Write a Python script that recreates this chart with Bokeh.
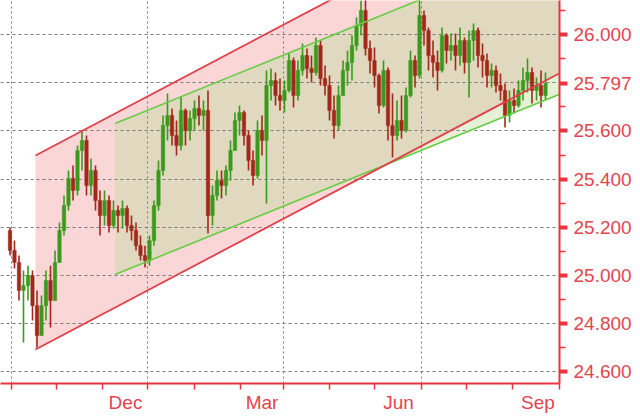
import numpy as np
import pandas as pd
from bokeh.plotting import figure
from bokeh.models import (Range1d, FixedTicker, SingleIntervalTicker, NumeralTickFormatter)
from bokeh.embed import file_html
from bokeh.resources import INLINE

# ---------------- data ----------------
bar_start = "2012-08-31"   # one bar every 3 calendar days
open_ = [25.187, 25.104, 25.054, 24.938, 24.958, 25.000, 24.875, 24.751, 24.875, 24.979,
         24.896, 25.054, 25.187, 25.290, 25.403, 25.353, 25.519, 25.560, 25.373, 25.436,
         25.311, 25.249, 25.311, 25.207, 25.270, 25.249, 25.278, 25.207, 25.187, 25.124,
         25.083, 25.062, 25.145, 25.290, 25.436, 25.622, 25.664, 25.581, 25.539, 25.685,
         25.602, 25.651, 25.693, 25.664, 25.685, 25.249, 25.332, 25.394, 25.373, 25.436,
         25.519, 25.643, 25.676, 25.581, 25.477, 25.415, 25.602, 25.560, 25.788, 25.809,
         25.747, 25.726, 25.768, 25.892, 25.747, 25.851, 25.913, 25.859, 25.842, 25.954,
         25.817, 25.788, 25.685, 25.622, 25.747, 25.851, 25.884, 25.954, 26.037, 26.100,
         25.942, 25.892, 25.830, 25.705, 25.851, 25.622, 25.581, 25.643, 25.602, 25.747,
         25.892, 25.830, 26.079, 26.017, 25.913, 25.884, 25.851, 25.996, 25.934, 25.954,
         25.913, 25.975, 25.884, 25.975, 26.017, 25.913, 25.892, 25.830, 25.851, 25.788,
         25.768, 25.664, 25.726, 25.705, 25.768, 25.809, 25.842, 25.768, 25.788, 25.747]
high = [25.199, 25.145, 25.083, 25.021, 25.041, 25.021, 24.938, 24.917, 25.021, 25.041,
        25.104, 25.220, 25.332, 25.436, 25.456, 25.539, 25.597, 25.581, 25.485, 25.456,
        25.353, 25.353, 25.332, 25.311, 25.290, 25.311, 25.290, 25.249, 25.220, 25.166,
        25.124, 25.166, 25.311, 25.477, 25.664, 25.755, 25.693, 25.643, 25.743, 25.693,
        25.685, 25.726, 25.747, 25.726, 25.768, 25.373, 25.436, 25.436, 25.456, 25.560,
        25.676, 25.705, 25.685, 25.602, 25.519, 25.643, 25.664, 25.851, 25.859, 25.842,
        25.817, 25.809, 25.921, 25.905, 25.892, 25.963, 25.942, 25.913, 25.988, 25.975,
        25.871, 25.830, 25.747, 25.788, 25.892, 25.934, 25.996, 26.071, 26.141, 26.154,
        25.975, 25.946, 25.838, 25.892, 25.863, 25.755, 25.726, 25.747, 25.780, 25.934,
        25.913, 26.141, 26.100, 26.029, 25.975, 25.934, 26.029, 26.004, 26.004, 26.004,
        26.029, 25.988, 26.017, 26.046, 26.029, 25.963, 25.921, 25.880, 25.871, 25.838,
        25.797, 25.768, 25.776, 25.809, 25.863, 25.900, 25.863, 25.822, 25.851, 25.842]
low = [25.083, 25.029, 24.896, 24.722, 24.896, 24.813, 24.701, 24.751, 24.813, 24.784,
       24.896, 25.054, 25.166, 25.270, 25.311, 25.332, 25.436, 25.332, 25.332, 25.270,
       25.166, 25.207, 25.178, 25.195, 25.178, 25.195, 25.178, 25.145, 25.104, 25.062,
       25.033, 25.041, 25.124, 25.270, 25.415, 25.560, 25.539, 25.498, 25.519, 25.539,
       25.560, 25.602, 25.622, 25.602, 25.174, 25.207, 25.311, 25.320, 25.332, 25.394,
       25.519, 25.581, 25.539, 25.436, 25.373, 25.403, 25.498, 25.299, 25.726, 25.705,
       25.685, 25.676, 25.759, 25.697, 25.726, 25.830, 25.817, 25.801, 25.830, 25.788,
       25.747, 25.643, 25.568, 25.602, 25.747, 25.788, 25.809, 25.934, 25.996, 25.913,
       25.838, 25.780, 25.672, 25.697, 25.560, 25.490, 25.560, 25.568, 25.593, 25.739,
       25.780, 25.817, 25.954, 25.851, 25.822, 25.768, 25.842, 25.880, 25.892, 25.851,
       25.871, 25.838, 25.739, 25.892, 25.863, 25.822, 25.780, 25.780, 25.759, 25.726,
       25.614, 25.635, 25.672, 25.697, 25.726, 25.759, 25.714, 25.726, 25.697, 25.726]
close = [25.104, 25.054, 24.938, 24.958, 25.000, 24.875, 24.751, 24.875, 24.979, 24.896,
         25.054, 25.187, 25.290, 25.403, 25.353, 25.519, 25.560, 25.373, 25.436, 25.311,
         25.249, 25.311, 25.207, 25.270, 25.249, 25.278, 25.207, 25.187, 25.124, 25.083,
         25.062, 25.145, 25.290, 25.436, 25.622, 25.664, 25.581, 25.539, 25.685, 25.602,
         25.651, 25.693, 25.664, 25.685, 25.249, 25.332, 25.394, 25.373, 25.436, 25.519,
         25.643, 25.676, 25.581, 25.477, 25.415, 25.602, 25.560, 25.788, 25.809, 25.747,
         25.726, 25.768, 25.892, 25.747, 25.851, 25.913, 25.859, 25.842, 25.954, 25.817,
         25.788, 25.685, 25.622, 25.747, 25.851, 25.884, 25.954, 26.037, 26.100, 25.942,
         25.892, 25.830, 25.705, 25.851, 25.622, 25.581, 25.643, 25.602, 25.747, 25.892,
         25.830, 26.079, 26.017, 25.913, 25.884, 25.851, 25.996, 25.934, 25.954, 25.913,
         25.975, 25.884, 25.975, 26.017, 25.913, 25.892, 25.830, 25.851, 25.788, 25.768,
         25.664, 25.726, 25.705, 25.768, 25.809, 25.842, 25.768, 25.788, 25.747, 25.797]

# trend channels (start / end points)
red_channel_dates = ["2012-09-17", "2013-09-01"]
red_lower = [24.693, 25.838]
red_upper = [25.498, 26.643]
green_channel_dates = ["2012-11-09", "2013-09-01"]
green_lower = [25.004, 25.751]
green_upper = [25.631, 26.378]

# axis ticks / labels
y_labelled = [24.6, 24.8, 25.0, 25.2, 25.4, 25.6, 26.0]   # 25.800 is hidden by the last-price tag
y_minor = [24.7, 24.9, 25.1, 25.3, 25.5, 25.7, 25.9, 26.1]
month_starts = ["2012-09-01", "2012-10-01", "2012-11-01", "2012-12-01", "2013-01-01",
                "2013-02-01", "2013-03-01", "2013-04-01", "2013-05-01", "2013-06-01",
                "2013-07-01", "2013-08-01", "2013-09-01"]
grid_dates = ["2012-09-01", "2012-12-01", "2013-03-01", "2013-06-01"]
month_labels = ["Dec", "Mar", "Jun", "Sep"]
month_label_dates = ["2012-11-16", "2013-02-15", "2013-05-17", "2013-08-18"]

# ---------------- helpers ----------------
base = pd.Timestamp("2012-09-01")
def day(s):
    return (pd.Timestamp(s) - base).days

bar_days = np.array([(d - base).days for d in pd.date_range(bar_start, periods=len(close), freq="3D")], dtype=float)
o = np.array(open_); h = np.array(high); l = np.array(low); c = np.array(close)
up = c >= o

RED_TXT = "#e2444f"
RED_AX = "#e8343e"
FONT = "Liberation Sans"

p = figure(frame_width=559, frame_height=383,
           x_range=Range1d(-7.33, 365.33), y_range=Range1d(24.552, 26.141),
           y_axis_location="right", output_backend="svg", toolbar_location=None,
           min_border_left=0, min_border_top=0, min_border_right=0, min_border_bottom=0,
           outline_line_color=None, background_fill_color="white", border_fill_color="white")

# channel fills
rd = [day(s) for s in red_channel_dates]
gd = [day(s) for s in green_channel_dates]
p.patch([rd[0], rd[1], rd[1], rd[0]], [red_lower[0], red_lower[1], red_upper[1], red_upper[0]],
        fill_color="#fad6d6", line_color=None, level="image")
p.patch([gd[0], gd[1], gd[1], gd[0]], [green_lower[0], green_lower[1], green_upper[1], green_upper[0]],
        fill_color="#bedea0", fill_alpha=0.42, line_color=None, level="image")

# bars
GREEN = "#3a9a1c"; DRED = "#a3281c"
colors = [GREEN if u else DRED for u in up]
p.segment(x0=bar_days, y0=l, x1=bar_days, y1=h, line_color=colors, line_width=1.6)
p.vbar(x=bar_days, width=2.3, top=np.maximum(o, c), bottom=np.minimum(o, c),
       fill_color=colors, line_color=colors, line_width=0.5)

# channel lines
p.line(gd, green_lower, line_color="#66cc44", line_width=1.6)
p.line(gd, green_upper, line_color="#66cc44", line_width=1.6)
p.line(rd, red_lower, line_color="#e0404a", line_width=1.8)
p.line(rd, red_upper, line_color="#e0404a", line_width=1.8)

# grids
p.ygrid.ticker = SingleIntervalTicker(interval=0.2, num_minor_ticks=0)
p.ygrid.grid_line_color = "#7a7a7a"
p.ygrid.grid_line_dash = "3 3"
p.ygrid.grid_line_width = 1
p.xgrid.ticker = FixedTicker(ticks=[day(s) for s in grid_dates])
p.xgrid.grid_line_color = "#7a7a7a"
p.xgrid.grid_line_dash = "2 3"
p.xgrid.grid_line_width = 1

# y axis (right) -- last price shown among the labels
last = close[-1]
yax = p.yaxis[0]
yax.ticker = FixedTicker(ticks=sorted(y_labelled + [last]), minor_ticks=y_minor)
yax.formatter = NumeralTickFormatter(format="0.000")
yax.axis_line_color = RED_AX
yax.axis_line_width = 2
yax.major_tick_line_color = RED_AX
yax.major_tick_line_width = 4
yax.major_tick_out = 8
yax.major_tick_in = 0
yax.minor_tick_line_color = RED_AX
yax.minor_tick_line_width = 1.5
yax.minor_tick_out = 6
yax.minor_tick_in = 0
yax.major_label_standoff = 6
yax.major_label_text_color = RED_TXT
yax.major_label_text_font = FONT
yax.major_label_text_font_size = "19px"

# x axis
xax = p.xaxis[0]
label_days = [day(s) for s in month_label_dates]
xax.ticker = FixedTicker(ticks=label_days, minor_ticks=[day(s) for s in month_starts])
xax.major_label_overrides = {d: t for d, t in zip(label_days, month_labels)}
xax.axis_line_color = RED_AX
xax.axis_line_width = 2
xax.major_tick_line_color = None
xax.major_tick_out = 0
xax.major_tick_in = 0
xax.minor_tick_line_color = RED_AX
xax.minor_tick_line_width = 1.5
xax.minor_tick_out = 6
xax.minor_tick_in = 0
xax.major_label_standoff = 2
xax.major_label_text_color = RED_TXT
xax.major_label_text_font = FONT
xax.major_label_text_font_size = "19px"

open("out.html", "w").write(file_html(p, INLINE))
